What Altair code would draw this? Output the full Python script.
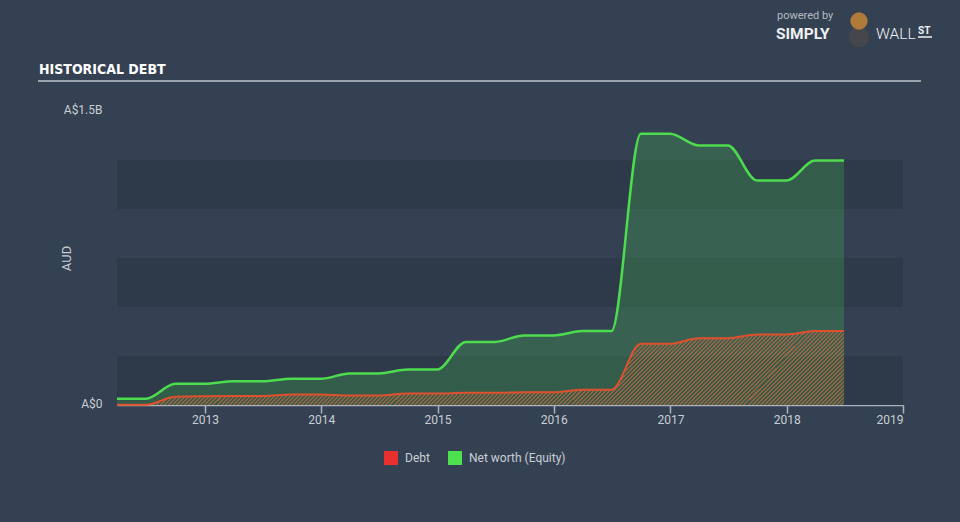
import altair as alt
import pandas as pd

# ---------------- data ----------------
dates = ["2012-03-31", "2012-06-30", "2012-09-30", "2012-12-31",
         "2013-03-31", "2013-06-30", "2013-09-30", "2013-12-31",
         "2014-03-31", "2014-06-30", "2014-09-30", "2014-12-31",
         "2015-03-31", "2015-06-30", "2015-09-30", "2015-12-31",
         "2016-03-31", "2016-06-30", "2016-09-30", "2016-12-31",
         "2017-03-31", "2017-06-30", "2017-09-30", "2017-12-31",
         "2018-03-31", "2018-06-30"]
equity_b = [0.032, 0.032, 0.108, 0.108, 0.121, 0.121, 0.134, 0.134,
            0.161, 0.161, 0.181, 0.181, 0.322, 0.322, 0.355, 0.355,
            0.377, 0.377, 1.384, 1.384, 1.324, 1.324, 1.145, 1.145,
            1.247, 1.247]
debt_b = [0.001, 0.001, 0.042, 0.045, 0.046, 0.046, 0.054, 0.054,
          0.048, 0.048, 0.059, 0.059, 0.062, 0.062, 0.065, 0.065,
          0.078, 0.078, 0.312, 0.312, 0.341, 0.341, 0.360, 0.360,
          0.377, 0.377]
series = ["Debt", "Net worth (Equity)"]
band_lo_b = [0.0, 0.5, 1.0]
band_hi_b = [0.25, 0.75, 1.25]
y_ticks = [0, 1.5e9]
y_tick_labels = ["A$0", "A$1.5B"]

# ---------------- styles ----------------
BG = "#344152"
BAND = "#2e3a4a"
GREEN = "#4ddc4d"
RED_LINE = "#e0502e"
ORANGE = "#b0653e"
TXT = "#c9ced5"
FONT = "Roboto"

df = pd.DataFrame({
    "date": dates,
    "equity": [v * 1e9 for v in equity_b],
    "debt": [v * 1e9 for v in debt_b],
})
bands = pd.DataFrame({
    "lo": [v * 1e9 for v in band_lo_b],
    "hi": [v * 1e9 for v in band_hi_b],
    "t0": ["2012-03-31"] * 3,
    "t1": ["2019-01-01"] * 3,
})

xscale = alt.Scale(type="utc",
                   domain=[alt.DateTime(year=2012, month=3, date=31, utc=True),
                           alt.DateTime(year=2019, month=1, date=1, utc=True)],
                   nice=False)
yscale = alt.Scale(domain=[0, 1.5e9], nice=False, zero=True)

label_expr = " : ".join(
    f"datum.value == {v} ? '{l}'" for v, l in zip(y_ticks[:-1], y_tick_labels[:-1])
) + f" : '{y_tick_labels[-1]}'"

x_axis = alt.Axis(title=None, format="%Y", tickCount={"interval": "year", "step": 1},
                  grid=False, domainColor="#aab2bc", domainWidth=1.5,
                  tickColor="#aab2bc", tickSize=8, tickWidth=1.5,
                  labelColor=TXT, labelFont=FONT, labelFontSize=12, labelPadding=1)
y_axis = alt.Axis(title="AUD", values=y_ticks, labelExpr=label_expr, grid=False,
                  domain=False, ticks=False, labelColor=TXT, labelFont=FONT,
                  labelFontSize=12, labelPadding=15, labelOffset=-2,
                  titleColor=TXT, titleFont=FONT, titleFontSize=13,
                  titleFontWeight="normal", titleX=-51, titleY=147,
                  titleBaseline="middle", titleAlign="center")

band_layer = alt.Chart(bands).mark_rect(color=BAND).encode(
    x=alt.X("t0:T", scale=xscale, axis=x_axis),
    x2="t1:T",
    y=alt.Y("lo:Q", scale=yscale, axis=y_axis),
    y2="hi:Q",
)

base = alt.Chart(df).encode(x=alt.X("date:T", scale=xscale))

eq_area = base.mark_area(interpolate="monotone", color="#4cd44c", opacity=0.22).encode(
    y=alt.Y("equity:Q", scale=yscale))

# hatch fill via a striped linear gradient
periods = 210
stops = []
clear = "rgba(0,0,0,0)"
for i in range(periods):
    a = i / periods
    b = (i + 0.5) / periods
    c = (i + 1) / periods
    stops += [alt.GradientStop(offset=a, color=ORANGE),
              alt.GradientStop(offset=b, color=ORANGE),
              alt.GradientStop(offset=b, color=clear),
              alt.GradientStop(offset=c, color=clear)]
hatch = alt.LinearGradient(gradient="linear", stops=stops,
                           x1=0, y1=0, x2=1.15, y2=0.117)

debt_area = base.mark_area(interpolate="monotone", fill=hatch, opacity=0.8).encode(
    y=alt.Y("debt:Q", scale=yscale))

debt_line = base.mark_line(interpolate="monotone", color=RED_LINE, strokeWidth=2).encode(
    y=alt.Y("debt:Q", scale=yscale))
eq_line = base.mark_line(interpolate="monotone", color=GREEN, strokeWidth=2.5).encode(
    y=alt.Y("equity:Q", scale=yscale))

legend_layer = alt.Chart(pd.DataFrame({"series": series})).mark_square(opacity=0).encode(
    x=alt.value(0), y=alt.value(0),
    color=alt.Color("series:N",
                    scale=alt.Scale(domain=series, range=["#e8302e", "#4ee04e"]),
                    legend=alt.Legend(title=None, orient="none", legendX=267, legendY=340,
                                      direction="horizontal", symbolType="square",
                                      symbolSize=196, symbolOpacity=1, symbolStrokeWidth=0,
                                      labelColor=TXT, labelFont=FONT, labelFontSize=12,
                                      labelOffset=7, columnPadding=18, padding=0)),
)

one = alt.Data(values=[{"k": 1}])

title = alt.Chart(one).mark_text(
    text="HISTORICAL DEBT", align="left", baseline="alphabetic",
    font="DejaVu Sans Condensed", fontWeight="bold",
    fontSize=14, color="#ffffff").encode(x=alt.value(-78), y=alt.value(-37))

title_rule = alt.Chart(one).mark_rule(color="#9aa3ad", strokeWidth=2).encode(
    x=alt.value(-79), x2=alt.value(804), y=alt.value(-30))

powered = alt.Chart(one).mark_text(
    text="powered by", align="left", baseline="alphabetic", font=FONT,
    fontSize=11, color="#b4bac2").encode(x=alt.value(660), y=alt.value(-92))
simply = alt.Chart(one).mark_text(
    text="SIMPLY", align="left", baseline="alphabetic", font=FONT, fontWeight="bold",
    fontSize=15.5, color="#eef0f2").encode(x=alt.value(659), y=alt.value(-72))
wall = alt.Chart(one).mark_text(
    text="WALL", align="left", baseline="alphabetic", font=FONT, fontWeight=300,
    fontSize=15.5, color="#eef0f2").encode(x=alt.value(759), y=alt.value(-72))
st = alt.Chart(one).mark_text(
    text="ST", align="left", baseline="alphabetic", font=FONT, fontWeight="bold",
    fontSize=10, color="#eef0f2").encode(x=alt.value(801), y=alt.value(-77))
st_rule = alt.Chart(one).mark_rule(color="#eef0f2", strokeWidth=1.5).encode(
    x=alt.value(801), x2=alt.value(815), y=alt.value(-74))
bull_suit = alt.Chart(one).mark_point(filled=True, shape="circle", size=420,
                                      color="#45474c", opacity=1).encode(
    x=alt.value(742), y=alt.value(-74))
bull_head = alt.Chart(one).mark_point(filled=True, shape="circle", size=300,
                                      color="#b07a3a", opacity=1).encode(
    x=alt.value(742), y=alt.value(-90))

chart = alt.layer(
    band_layer, eq_area, debt_area, debt_line, eq_line, legend_layer,
    title, title_rule, powered, simply, wall, st, st_rule, bull_suit, bull_head,
).properties(
    width=786, height=294,
    background=BG,
    padding={"left": 117, "top": 111, "right": 57, "bottom": 117},
    autosize=alt.AutoSizeParams(type="none"),
).configure_view(stroke=None)

chart.save("out.html", embed_options={"renderer": "svg", "actions": False})
